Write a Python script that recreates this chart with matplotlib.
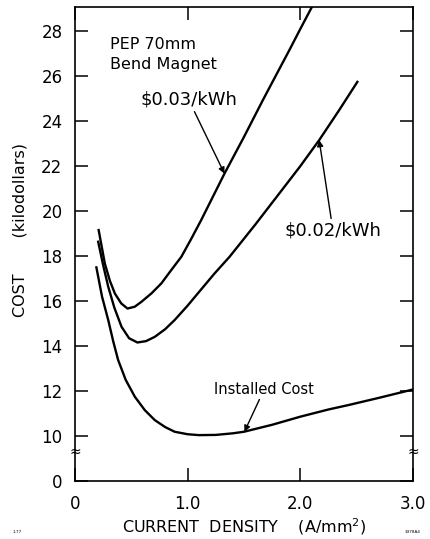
import matplotlib
matplotlib.use("Agg")
import matplotlib.pyplot as plt

# values (x in A/mm^2, y in kilodollars)
installed_x = [0.19, 0.24, 0.295, 0.34, 0.383, 0.45, 0.531, 0.62, 0.708, 0.80, 0.885,
               1.0, 1.1, 1.25, 1.4, 1.5, 1.75, 2.0, 2.25, 2.43, 2.7, 3.0]
installed_y = [17.5, 16.2, 15.16, 14.2, 13.38, 12.5, 11.75, 11.15, 10.71, 10.4, 10.19,
               10.08, 10.04, 10.05, 10.12, 10.19, 10.5, 10.86, 11.18, 11.38, 11.7, 12.07]

cost02_x = [0.206, 0.25, 0.295, 0.35, 0.413, 0.48, 0.554, 0.63, 0.708, 0.8, 0.885,
            1.0, 1.09, 1.239, 1.372, 1.6, 1.814, 2.0, 2.168, 2.345, 2.507]
cost02_y = [18.64, 17.6, 16.64, 15.7, 14.86, 14.35, 14.16, 14.22, 14.41, 14.75, 15.16,
            15.8, 16.34, 17.23, 17.97, 19.4, 20.79, 22.0, 23.16, 24.49, 25.75]

cost03_x = [0.21, 0.265, 0.31, 0.354, 0.41, 0.466, 0.53, 0.59, 0.68, 0.767, 0.85,
            0.944, 1.03, 1.12, 1.22, 1.327, 1.5, 1.667, 1.78, 1.903, 2.0, 2.1]
cost03_y = [19.16, 17.67, 16.9, 16.34, 15.9, 15.67, 15.75, 15.97, 16.35, 16.79, 17.35,
            17.97, 18.75, 19.6, 20.6, 21.67, 23.3, 24.93, 26.0, 27.16, 28.1, 29.05]

yticks = [8, 10, 12, 14, 16, 18, 20, 22, 24, 26, 28]
yticklabels = ["0", "10", "12", "14", "16", "18", "20", "22", "24", "26", "28"]
xticks = [0, 1.0, 2.0, 3.0]
xticklabels = ["0", "1.0", "2.0", "3.0"]

plt.rcParams["font.family"] = "DejaVu Sans"

fig = plt.figure(figsize=(4.31, 5.39), dpi=100)
ax = fig.add_axes([0.174, 0.1076, 0.784, 0.879])

for xs, ys in [(installed_x, installed_y), (cost02_x, cost02_y), (cost03_x, cost03_y)]:
    ax.plot(xs, ys, color="black", lw=1.7, solid_joinstyle="round")

ax.set_xlim(0, 3.0)
ax.set_ylim(8, 29.07)
ax.set_xticks(xticks)
ax.set_xticklabels(xticklabels)
ax.set_yticks(yticks)
ax.set_yticklabels(yticklabels)
ax.tick_params(direction="in", length=9.5, width=1.1, labelsize=12,
               top=True, right=True, color="black")
ax.tick_params(axis="y", pad=9)
ax.tick_params(axis="x", pad=10)
for s in ax.spines.values():
    s.set_linewidth(1.2)

ax.set_xlabel("CURRENT  DENSITY    (A/mm$^2$)", fontsize=11.5)
ax.xaxis.set_label_coords(0.5, -0.074)
ax.set_ylabel("COST       (kilodollars)", fontsize=11.5)
ax.yaxis.set_label_coords(-0.14, 0.53)

# axis break marks
for xb in [0, 3.0]:
    ax.text(xb, 9.3, "≈", ha="center", va="center", fontsize=10, clip_on=False)

ax.text(0.31, 27.75, "PEP 70mm\nBend Magnet", fontsize=11.5, va="top", ha="left",
        linespacing=1.4)

arrow = dict(arrowstyle="-|>", color="black", lw=1.0, mutation_scale=9,
             shrinkA=0, shrinkB=0)
ax.annotate("\\$0.03/kWh", xy=(1.327, 21.67), xytext=(1.01, 24.55),
            fontsize=13, ha="center", va="bottom", arrowprops=arrow)
ax.annotate("\\$0.02/kWh", xy=(2.168, 23.16), xytext=(2.29, 19.55),
            fontsize=13, ha="center", va="top", arrowprops=arrow)
ax.annotate("Installed Cost", xy=(1.504, 10.19), xytext=(1.68, 11.75),
            fontsize=10.5, ha="center", va="bottom", arrowprops=arrow)

fig.text(0.03, 0.012, "1-77", fontsize=3)
fig.text(0.94, 0.012, "3378A4", fontsize=3)

fig.savefig("out.png", dpi=100)
